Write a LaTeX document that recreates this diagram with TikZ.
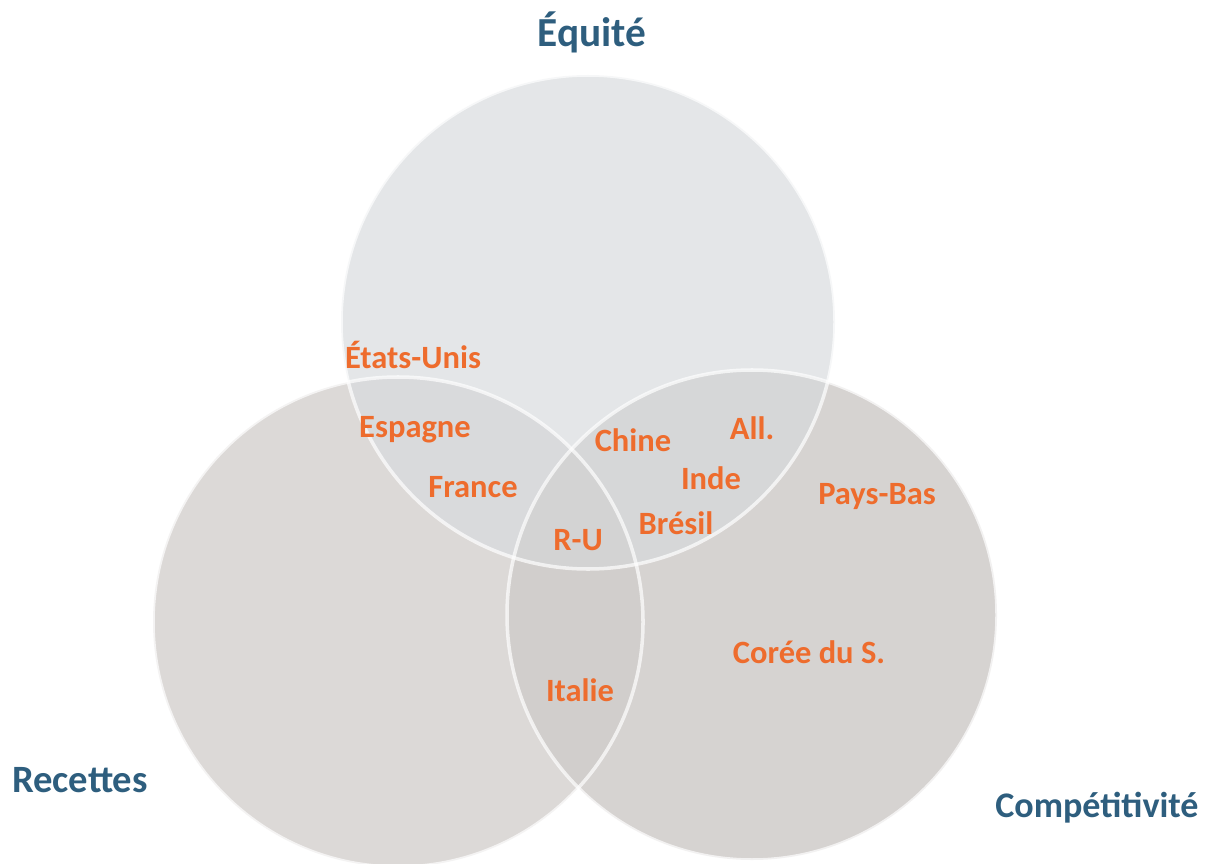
\documentclass[tikz,border=0pt]{standalone}
\usepackage{fontspec}
\setmainfont{Carlito}
\usepackage{tikz}
\usetikzlibrary{positioning}

\definecolor{paysorange}{HTML}{EE6C2D}
\definecolor{titreblue}{HTML}{2E5E7E}
\definecolor{equitefill}{HTML}{E4E6E8}
\definecolor{recettesfill}{HTML}{DCD9D7}
\definecolor{compfill}{HTML}{D6D3D1}
\definecolor{eqrecfill}{HTML}{D9DADC}
\definecolor{eqcompfill}{HTML}{D6D7D8}
\definecolor{reccompfill}{HTML}{D1CECC}
\definecolor{troisfill}{HTML}{D3D3D3}

\begin{document}
\begin{tikzpicture}[x=0.02cm, y=-0.02cm,
        pays/.style={text=paysorange, font=\bfseries\fontsize{18.5}{20}\selectfont, inner sep=0pt},
        titre/.style={text=titreblue, font=\bfseries\fontsize{22}{24}\selectfont, inner sep=0pt},
        rim/.style={draw=white, line width=2pt, draw opacity=0.7}]
            \useasboundingbox (0, 0) rectangle (1212, 864);
            % the three circles
            \fill[equitefill] (588, 322) circle (247);
            \fill[recettesfill] (398, 622) circle (245);
            \fill[compfill] (752, 615) circle (245);
            % overlaps
            \begin{scope}
                \clip (588, 322) circle (247);
                \fill[eqrecfill] (398, 622) circle (245);
                \fill[eqcompfill] (752, 615) circle (245);
            \end{scope}
            \begin{scope}
                \clip (398, 622) circle (245);
                \fill[reccompfill] (752, 615) circle (245);
                \clip (588, 322) circle (247);
                \fill[troisfill] (752, 615) circle (245);
            \end{scope}
            \draw[rim] (588, 322) circle (247);
            \draw[rim] (398, 622) circle (245);
            \draw[rim] (752, 615) circle (245);
            % labels
            \node[titre, font=\bfseries\fontsize{23.5}{25}\selectfont] (equite) at (592, 32) {Équité};
            \node[titre] (recettes) at (80, 780) {Recettes};
            \node[titre, font=\bfseries\fontsize{20.5}{22}\selectfont] (competitivite) at (1097, 808) {Compétitivité};
            \node[pays] (etatsunis) at (413, 355) {États-Unis};
            \node[pays] (espagne) at (415, 430) {Espagne};
            \node[pays] (france) at (473, 487) {France};
            \node[pays] (chine) at (633, 440) {Chine};
            \node[pays] (all) at (752, 428) {All.};
            \node[pays] (inde) at (711, 478) {Inde};
            \node[pays] (bresil) at (676, 523) {Brésil};
            \node[pays] (ru) at (578, 540) {R-U};
            \node[pays] (paysbas) at (877, 497) {Pays-Bas};
            \node[pays] (coree) at (809, 652) {Corée du S.};
            \node[pays] (italie) at (580, 690) {Italie};
        \end{tikzpicture}
\end{document}
